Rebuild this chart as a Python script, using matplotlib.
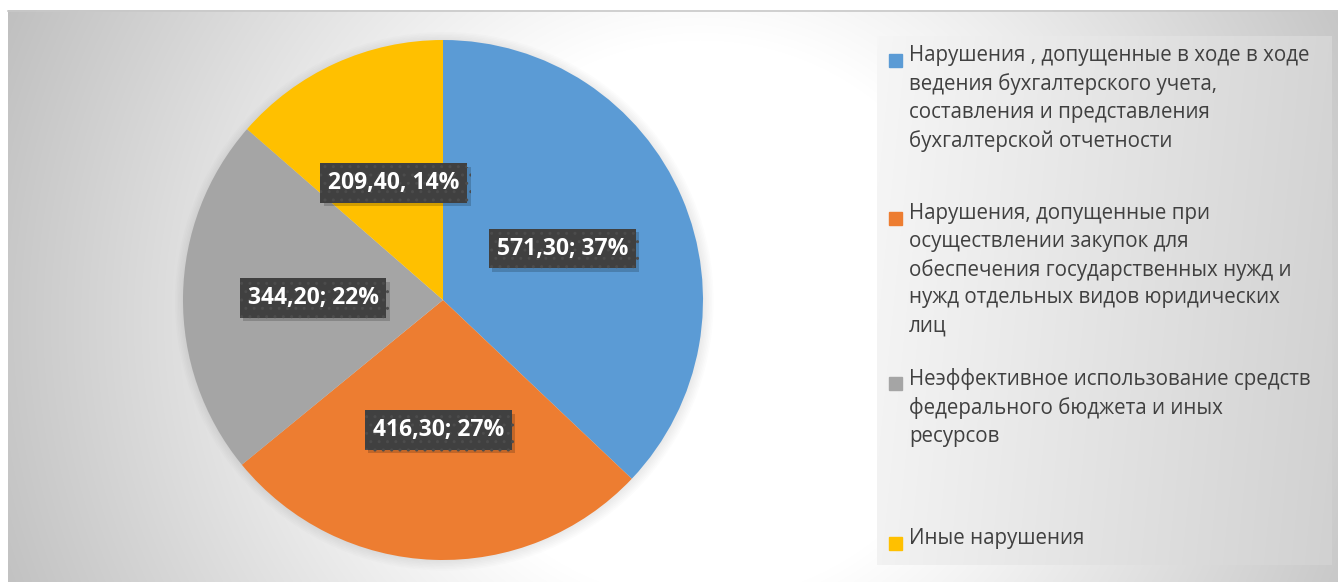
import numpy as np
import matplotlib.pyplot as plt
from matplotlib.patches import Rectangle, Circle
import matplotlib.patheffects as pe

# данные
categories = [
    'Нарушения , допущенные в ходе в ходе\nведения бухгалтерского учета,\nсоставления и представления\nбухгалтерской отчетности',
    'Нарушения, допущенные при\nосуществлении закупок для\nобеспечения государственных нужд и\nнужд отдельных видов юридических\nлиц',
    'Неэффективное использование средств\nфедерального бюджета и иных\nресурсов',
    'Иные нарушения',
]
values = [571.30, 416.30, 344.20, 209.40]
data_labels = ['571,30; 37%', '416,30; 27%', '344,20; 22%', '209,40, 14%']
colors = ['#5B9BD5', '#ED7D31', '#A5A5A5', '#FFC000']

W, H = 1338, 582
fig = plt.figure(figsize=(W / 100, H / 100), dpi=100)

# фон
bg = fig.add_axes([0, 0, 1, 1])
yy, xx = np.mgrid[0:H, 0:W]
e = np.sqrt((xx - 700.0) ** 2 + (yy - 320.0) ** 2)
g = np.clip(1.0 - (e - 280) * 0.00052, 0.74, 1.0)
g[:, :8] = 1.0
g[:10, :] = 1.0
bg.imshow(np.dstack([g, g, g]), extent=(0, W, H, 0), aspect='auto',
          interpolation='bilinear')
bg.plot([8, W], [10.5, 10.5], color='#c8c8c8', lw=1.2)

# панель легенды
px = np.linspace(0.965, 0.835, 200)
py = np.linspace(0, 0.015, 100)[:, None]
panel = np.clip(px[None, :] - py, 0, 1)
bg.imshow(np.dstack([panel] * 3), extent=(877, 1332, 565, 36), aspect='auto',
          interpolation='bilinear')
bg.set_xlim(0, W)
bg.set_ylim(H, 0)
bg.axis('off')

# легенда вручную
leg_y = [60, 218, 383, 543]
for i, lab in enumerate(categories):
    bg.add_patch(Rectangle((889, leg_y[i] - 6), 13, 13, color=colors[i]))
    bg.text(909, leg_y[i] - 15, lab, fontsize=14.8, family='Open Sans',
            color='#404040', va='top', ha='left', linespacing=1.42)

# круговая диаграмма
cx, cy, r = 443, 300, 260
ax = fig.add_axes([(cx - r) / W, (H - cy - r) / H, 2 * r / W, 2 * r / H])
# мягкая тень вокруг круга
for k in range(7):
    ax.add_patch(Circle((0.005, -0.005), 1 + 0.006 * k, color='black',
                        alpha=0.012, lw=0, clip_on=False))
wedges, _ = ax.pie(values, colors=colors, startangle=90, counterclock=False,
                   wedgeprops=dict(linewidth=0))
ax.set_xlim(-1, 1)
ax.set_ylim(-1, 1)

for i, w in enumerate(wedges):
    ang = np.deg2rad((w.theta1 + w.theta2) / 2)
    x, y = 0.5 * np.cos(ang), 0.5 * np.sin(ang)
    if i == 3:
        x, y = -0.19, 0.45
    t = ax.text(x, y, data_labels[i], ha='center', va='center', fontsize=16.5,
                fontweight='bold', family='Open Sans', color='white',
                bbox=dict(boxstyle='square,pad=0.34', facecolor='#404040',
                          edgecolor='#4c4c4c', linewidth=0, hatch='..'))
    t.get_bbox_patch().set_path_effects([
        pe.SimplePatchShadow(offset=(2.5, -2.5), shadow_rgbFace='#000000', alpha=0.18),
        pe.Normal()])

fig.savefig('out.png', dpi=100)
